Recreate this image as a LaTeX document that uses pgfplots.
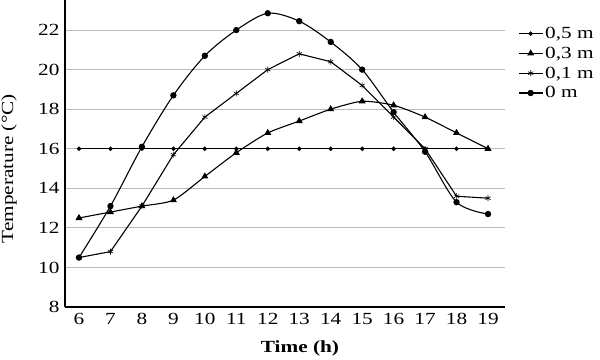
\documentclass[border=0pt]{standalone}
\usepackage{fontspec}
\setmainfont[FakeStretch=1.25]{Liberation Serif}
\usepackage{pgfplots}
\pgfplotsset{compat=1.18}
\begin{document}
\begin{tikzpicture}
\begin{axis}[
  scale only axis,
  width=440pt, height=307pt,
  xmin=5.555, xmax=19.54,
  ymin=8, ymax=23.52,
  axis x line=bottom, axis y line=left,
  axis line style={line width=2.6pt, -},
  xtick={6,...,19}, ytick={8,10,...,22},
  major tick length=0pt,
  ymajorgrids,
  grid style={gray!55, line width=0.8pt},
  /pgf/number format/assume math mode=true,
  tick label style={font=\fontsize{17}{20}\selectfont},
  yticklabel style={xshift=-2pt},
  xticklabel style={yshift=-3pt},
  xlabel={\textbf{Time (h)}},
  ylabel={Temperature (\textdegree C)},
  label style={font=\fontsize{17}{20}\selectfont},
  xlabel style={at={(rel axis cs:0.534,0)}, anchor=center, yshift=-41pt},
  ylabel style={at={(rel axis cs:0,0.45)}, anchor=center, yshift=56pt},
  legend style={at={(1,1)}, anchor=north west, xshift=12pt, yshift=-24pt,
    draw=none, fill=none, font=\fontsize{17}{20}\selectfont,
    row sep=3pt, inner sep=1pt},
  legend cell align=left,
  legend image code/.code={
    \draw[mark repeat=2,mark phase=2] plot coordinates {(0cm,0cm) (0.42cm,0cm) (0.84cm,0cm)};},
  every axis plot/.append style={black, line width=1.1pt},
]
\coordinate (O) at (rel axis cs:0,0);
\addplot[mark=*, mark size=1.6pt] coordinates {
(6,16) (7,16) (8,16) (9,16) (10,16) (11,16) (12,16) (13,16) (14,16) (15,16) (16,16) (17,16) (18,16) (19,16)};
\addlegendentry{0,5 m}
\addplot[smooth, tension=0.4, mark=triangle*, mark size=3pt] coordinates {
(6,12.5) (7,12.8) (8,13.1) (9,13.4) (10,14.6) (11,15.8) (12,16.8) (13,17.4) (14,18.0) (15,18.4) (16,18.2) (17,17.6) (18,16.8) (19,16.0)};
\addlegendentry{0,3 m}
\addplot[mark=asterisk, mark size=3pt, mark options={line width=0.6pt}] coordinates {
(6,10.5) (7,10.8) (8,13.1) (9,15.7) (10,17.6) (11,18.8) (12,20.0) (13,20.8) (14,20.4) (15,19.2) (16,17.6) (17,16.0) (18,13.6) (19,13.5)};
\addlegendentry{0,1 m}
\addplot[smooth, mark=*, mark size=2.6pt] coordinates {
(6,10.5) (7,13.1) (8,16.1) (9,18.7) (10,20.7) (11,22.0) (12,22.85) (13,22.45) (14,21.4) (15,20.0) (16,17.85) (17,15.85) (18,13.3) (19,12.7)};
\addlegendentry{0 m}
\end{axis}
\pgfresetboundingbox
\path (O) ++(-65pt,-52pt) rectangle ++(600pt,359pt);
\end{tikzpicture}
\end{document}
